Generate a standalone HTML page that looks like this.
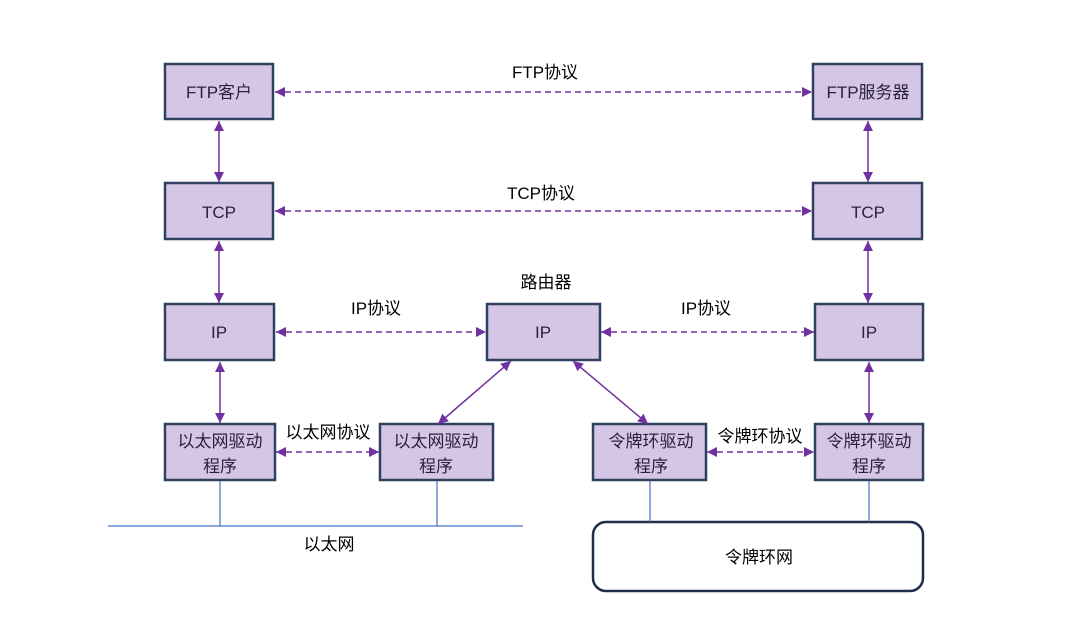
<!DOCTYPE html>
<html><head><meta charset="utf-8"><style>
html,body{margin:0;padding:0;background:#fff;}
svg{display:block;}
text{font-family:"Liberation Sans","Noto Sans CJK SC",sans-serif;font-size:17px;fill:#000;}
.b text{fill:#2a2040;}
</style></head><body>
<svg width="1089" height="622" viewBox="0 0 1089 622" xmlns="http://www.w3.org/2000/svg">
<defs>
<marker id="a" viewBox="0 0 10 10" refX="10" refY="5" markerWidth="10" markerHeight="10" markerUnits="userSpaceOnUse" orient="auto-start-reverse"><path d="M0,0L10,5L0,10z" fill="#7030a0"/></marker>
</defs>
<g fill="#d6c6e6" stroke="#2f4060" stroke-width="2.5">
<rect x="165" y="64" width="108" height="55"/>
<rect x="813" y="64" width="109" height="55"/>
<rect x="165" y="183" width="108" height="56"/>
<rect x="813" y="183" width="109" height="56"/>
<rect x="165" y="304" width="109" height="56"/>
<rect x="487" y="304" width="113" height="56"/>
<rect x="815" y="304" width="108" height="56"/>
<rect x="165" y="424" width="110" height="56"/>
<rect x="380" y="424" width="113" height="56"/>
<rect x="593" y="424" width="113" height="56"/>
<rect x="815" y="424" width="108" height="56"/>
</g>
<rect x="593" y="522" width="330" height="69" rx="13" fill="#fff" stroke="#1f2d4d" stroke-width="2.5"/>
<g stroke="#4472c4" stroke-width="1.2">
<line x1="108" y1="526" x2="523" y2="526"/>
<line x1="220" y1="481" x2="220" y2="526"/>
<line x1="437" y1="481" x2="437" y2="526"/>
<line x1="650" y1="481" x2="650" y2="522"/>
<line x1="869" y1="481" x2="869" y2="522"/>
</g>
<g stroke="#7030a0" stroke-width="1.5" stroke-dasharray="6,4" marker-start="url(#a)" marker-end="url(#a)">
<line x1="275" y1="92" x2="812" y2="92"/>
<line x1="275" y1="211" x2="812" y2="211"/>
<line x1="276" y1="332" x2="486" y2="332"/>
<line x1="601" y1="332" x2="814" y2="332"/>
<line x1="276" y1="452" x2="379" y2="452"/>
<line x1="707" y1="452" x2="814" y2="452"/>
</g>
<g stroke="#7030a0" stroke-width="1.5" marker-start="url(#a)" marker-end="url(#a)">
<line x1="219" y1="121" x2="219" y2="182"/>
<line x1="868" y1="121" x2="868" y2="182"/>
<line x1="219" y1="241" x2="219" y2="303"/>
<line x1="868" y1="241" x2="868" y2="303"/>
<line x1="220" y1="362" x2="220" y2="423"/>
<line x1="869" y1="362" x2="869" y2="423"/>
<line x1="511" y1="361" x2="438" y2="424"/>
<line x1="573" y1="361" x2="648" y2="424"/>
</g>
<g class="b" text-anchor="middle">
<text x="219" y="98">FTP客户</text>
<text x="868" y="98">FTP服务器</text>
<text x="219" y="218">TCP</text>
<text x="868" y="218">TCP</text>
<text x="219" y="338">IP</text>
<text x="543" y="338">IP</text>
<text x="869" y="338">IP</text>
<text x="220" y="447">以太网驱动</text>
<text x="220" y="472">程序</text>
<text x="436" y="447">以太网驱动</text>
<text x="436" y="472">程序</text>
<text x="651" y="447">令牌环驱动</text>
<text x="651" y="472">程序</text>
<text x="869" y="447">令牌环驱动</text>
<text x="869" y="472">程序</text>
</g>
<g text-anchor="middle">
<text x="545" y="78">FTP协议</text>
<text x="541" y="199">TCP协议</text>
<text x="376" y="314">IP协议</text>
<text x="546" y="288">路由器</text>
<text x="706" y="314">IP协议</text>
<text x="328" y="438">以太网协议</text>
<text x="760" y="442">令牌环协议</text>
<text x="329" y="550">以太网</text>
<text x="759" y="563">令牌环网</text>
</g>
</svg>
</body></html>
